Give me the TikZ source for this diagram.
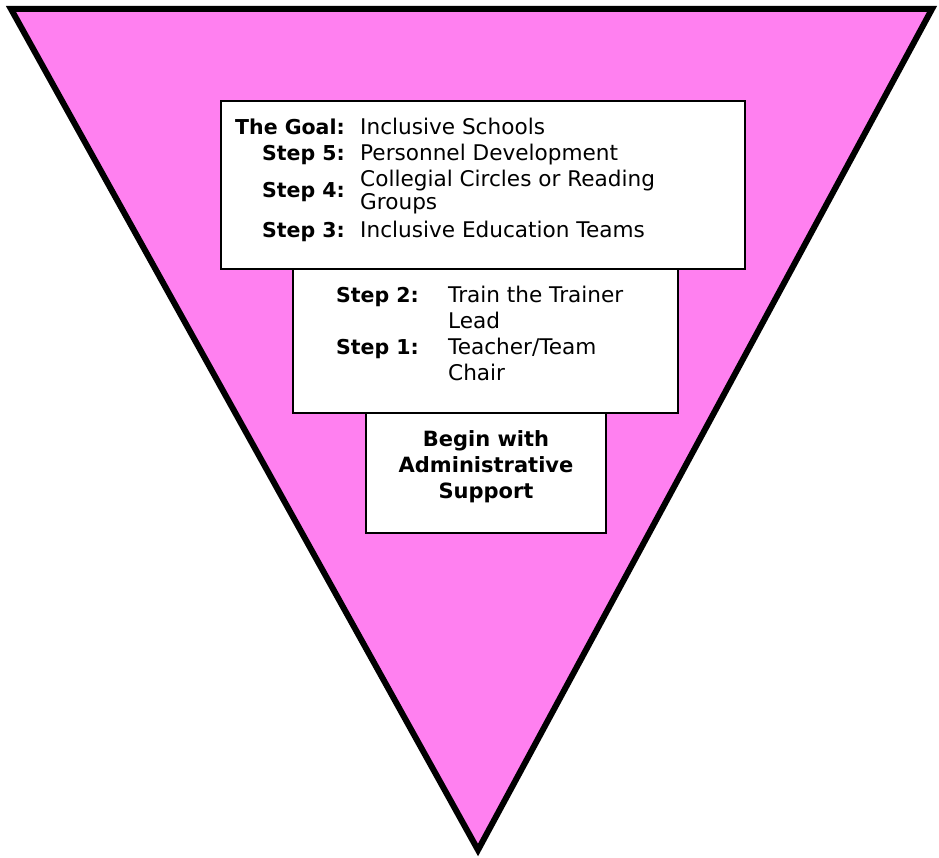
\documentclass[tikz,border=0pt]{standalone}
\usepackage{fontspec}
\setmainfont{DejaVu Sans}
\definecolor{pinkfill}{RGB}{255,128,240}
\begin{document}
\begin{tikzpicture}[x=1pt,y=-1pt,
  box/.style={draw=black,line width=2.2pt,fill=white},
  lbl/.style={anchor=base east,inner sep=0pt,font=\fontsize{20.5}{24}\selectfont\bfseries},
  val/.style={anchor=base west,inner sep=0pt,font=\fontsize{21.6}{24}\selectfont},
  ctr/.style={anchor=base,inner sep=0pt,font=\fontsize{21}{24}\selectfont\bfseries}]
\useasboundingbox (0,0) rectangle (939,858);
% triangle
\coordinate (tl) at (11,9);
\coordinate (tr) at (932,9);
\coordinate (ap) at (478,850);
\draw[fill=pinkfill,line width=6pt,line join=miter] (tl) -- (tr) -- (ap) -- cycle;
% boxes
\draw[box] (366,413) rectangle (606,533);
\draw[box] (293,269) rectangle (678,413);
\draw[box] (221,101) rectangle (745,269);
% box 1 text
\node[lbl] (g)  at (345,135) {The Goal:};
\node[val] (gv) at (360,135) {Inclusive Schools};
\node[lbl] (s5) at (345,161) {Step 5:};
\node[val] (s5v) at (360,161) {Personnel Development};
\node[lbl] (s4) at (345,198) {Step 4:};
\node[val] (s4a) at (360,187) {Collegial Circles or Reading};
\node[val] (s4b) at (360,210) {Groups};
\node[lbl] (s3) at (345,238) {Step 3:};
\node[val] (s3v) at (360,238) {Inclusive Education Teams};
% box 2 text
\node[lbl] (s2) at (419,303) {Step 2:};
\node[val] (s2a) at (448,303) {Train the Trainer};
\node[val] (s2b) at (448,328) {Lead};
\node[lbl] (s1) at (419,354) {Step 1:};
\node[val] (s1a) at (448,354) {Teacher/Team};
\node[val] (s1b) at (448,380) {Chair};
% box 3 text
\node[ctr] (b1) at (486,446) {Begin with};
\node[ctr] (b2) at (486,472) {Administrative};
\node[ctr] (b3) at (486,498) {Support};
\end{tikzpicture}
\end{document}
